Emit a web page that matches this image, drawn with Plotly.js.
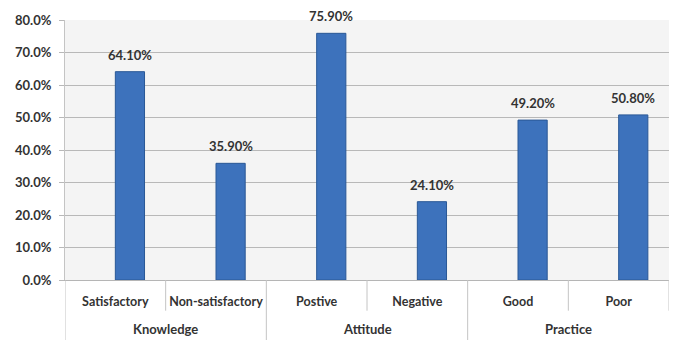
<!DOCTYPE html>
<html><head><meta charset="utf-8">
<script src="https://cdn.plot.ly/plotly-3.0.1.min.js"></script>
<style>html,body{margin:0;padding:0;background:#fff}#c{width:673px;height:340px}</style>
</head><body><div id="c"></div>
<script>
const groups = ["Knowledge","Knowledge","Attitude","Attitude","Practice","Practice"];
const categories = ["Satisfactory","Non-satisfactory","Postive","Negative","Good","Poor"];
const values = [64.1, 35.9, 75.9, 24.1, 49.2, 50.8];
const yTicks = [0,10,20,30,40,50,60,70,80];

const fam = "Lato, 'Open Sans', sans-serif";
const lineCol = "#c4c4c4";
const barWidth = 0.29;

// group spans derived from the groups array
const spans = [];
groups.forEach((g,i)=>{
  if (!spans.length || spans[spans.length-1].name !== g) spans.push({name:g, start:i, end:i});
  else spans[spans.length-1].end = i;
});

const shapes = [];
const annotations = [];
for (let i = 0; i <= categories.length; i++) {
  const b = i - 0.5;
  const isGroupEdge = i === 0 || (i < categories.length && groups[i] !== groups[i-1]);
  shapes.push({type:"line", xref:"x", yref:"paper", x0:b, x1:b, y0:0, y1: isGroupEdge ? -0.235 : -0.118,
    line:{color:lineCol, width:1}});
}
spans.forEach(s=>{
  annotations.push({xref:"x", yref:"paper", x:(s.start+s.end)/2, y:-0.19, yanchor:"middle",
    text:s.name, showarrow:false, font:{family:fam, size:13, color:"#333", weight:"bold"}});
});
// data labels above bars
values.forEach((v,i)=>{
  annotations.push({xref:"x", yref:"y", x:i + barWidth/2, y:v, yanchor:"bottom", yshift:7,
    text:v.toFixed(2)+"%", showarrow:false, font:{family:fam, size:13, color:"#333", weight:"bold"}});
});

Plotly.newPlot("c", [{
  type:"bar",
  x:categories,
  y:values,
  offset:0,
  width:barWidth,
  marker:{color:"#3d72bc", line:{color:"#2a5896", width:1}},
  hoverinfo:"none"
}], {
  width:673, height:340,
  margin:{l:65, r:4, t:20, b:60},
  paper_bgcolor:"#ffffff",
  plot_bgcolor:"#f4f4f4",
  showlegend:false,
  bargap:0,
  shapes:shapes,
  annotations:annotations,
  xaxis:{
    type:"category",
    range:[-0.5, categories.length-0.5],
    showgrid:false,
    showline:true, linecolor:"#b5b5b5",
    tickangle:0,
    ticks:"",
    ticklabelstandoff:10,
    tickfont:{family:fam, size:12.5, color:"#333", weight:"bold"}
  },
  yaxis:{
    range:[0,80],
    tickvals:yTicks,
    ticktext:yTicks.map(v=>v.toFixed(1)+"%"),
    showgrid:true, gridcolor:"#b8b8b8", gridwidth:1,
    zeroline:false, showline:true, linecolor:lineCol,
    ticks:"outside", ticklen:5, tickcolor:"#b8b8b8",
    ticklabelstandoff:5,
    tickfont:{family:fam, size:13, color:"#333", weight:"bold"}
  }
}, {staticPlot:true});
</script></body></html>
